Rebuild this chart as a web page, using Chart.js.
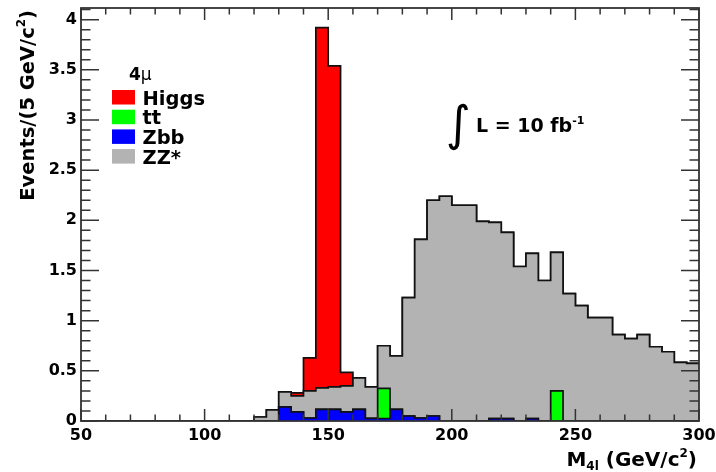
<!DOCTYPE html>
<html lang="en">
<head>
    <meta charset="UTF-8">
    <title>M4l stacked histogram</title>
    <script src="https://cdn.jsdelivr.net/npm/chart.js"></script>
    <style>
        body { margin: 0; background: #fff; }
        canvas { display: block; }
    </style>
</head>
<body>
    <canvas id="massChart" width="716" height="472"></canvas>

    <script>
        // bin edges in GeV/c^2 (5 GeV bins)
        const binEdges = [50, 55, 60, 65, 70, 75, 80, 85, 90, 95,
                          100, 105, 110, 115, 120, 125, 130, 135, 140, 145,
                          150, 155, 160, 165, 170, 175, 180, 185, 190, 195,
                          200, 205, 210, 215, 220, 225, 230, 235, 240, 245,
                          250, 255, 260, 265, 270, 275, 280, 285, 290, 295, 300];

        // events per bin, one value per bin starting at the edge above
        const zbbEvents = [0, 0, 0, 0, 0, 0, 0, 0, 0, 0,
                           0, 0, 0, 0, 0, 0, 0.14, 0.09, 0.03, 0.115,
                           0.115, 0.09, 0.115, 0.027, 0.025, 0.115, 0.05, 0.03, 0.05, 0,
                           0, 0, 0, 0.023, 0.023, 0, 0.023, 0, 0, 0,
                           0, 0, 0, 0, 0, 0, 0, 0, 0, 0];
        const ttEvents = [0, 0, 0, 0, 0, 0, 0, 0, 0, 0,
                          0, 0, 0, 0, 0, 0, 0, 0, 0, 0,
                          0, 0, 0, 0, 0.30, 0, 0, 0, 0, 0,
                          0, 0, 0, 0, 0, 0, 0, 0, 0.30, 0,
                          0, 0, 0, 0, 0, 0, 0, 0, 0, 0];
        const zzEvents = [0, 0, 0, 0, 0, 0, 0, 0, 0, 0,
                          0, 0, 0, 0, 0.04, 0.11, 0.15, 0.16, 0.27, 0.215,
                          0.225, 0.26, 0.315, 0.313, 0.425, 0.535, 1.18, 1.78, 2.15, 2.24,
                          2.15, 2.15, 1.99, 1.957, 1.857, 1.54, 1.647, 1.40, 1.38, 1.27,
                          1.15, 1.03, 1.03, 0.86, 0.82, 0.86, 0.74, 0.69, 0.585, 0.575];
        const higgsEvents = [0, 0, 0, 0, 0, 0, 0, 0, 0, 0,
                             0, 0, 0, 0, 0, 0, 0, 0.03, 0.33, 3.59,
                             3.20, 0.135, 0, 0, 0, 0, 0, 0, 0, 0,
                             0, 0, 0, 0, 0, 0, 0, 0, 0, 0,
                             0, 0, 0, 0, 0, 0, 0, 0, 0, 0];

        const xTicks = [50, 100, 150, 200, 250, 300];
        const yTicks = [0, 0.5, 1, 1.5, 2, 2.5, 3, 3.5, 4];

        const FONT = '"DejaVu Sans", "Liberation Sans", sans-serif';

        // step points: each bin value is held until the next edge
        function histPoints(values) {
            return binEdges.map((e, i) => ({ x: e, y: values[Math.min(i, values.length - 1)] }));
        }

        function histDataset(label, values, color, fill) {
            return {
                label: label,
                data: histPoints(values),
                backgroundColor: color,
                borderColor: '#111',
                borderWidth: 1.7,
                stepped: true,
                fill: fill,
                pointRadius: 0,
                tension: 0
            };
        }

        // stacked bottom to top
        const datasets = [
            histDataset('Zbb', zbbEvents, '#0000ff', 'origin'),
            histDataset('tt', ttEvents, '#00ff00', '-1'),
            histDataset('ZZ*', zzEvents, '#b3b3b3', '-1'),
            histDataset('Higgs', higgsEvents, '#ff0000', '-1')
        ];

        // frame with inward ticks on all four sides
        const frameTicks = {
            id: 'frameTicks',
            afterDatasetsDraw(chart) {
                const { ctx, chartArea: a, scales: { x, y } } = chart;
                ctx.save();
                ctx.strokeStyle = '#333';
                ctx.lineWidth = 1.5;
                ctx.beginPath();
                for (let k = 0; k <= 41; k++) {
                    const py = y.getPixelForValue(k / 10);
                    if (py < a.top) break;
                    const len = k % 5 === 0 ? 18 : 9.5;
                    ctx.moveTo(a.left, py); ctx.lineTo(a.left + len, py);
                    ctx.moveTo(a.right, py); ctx.lineTo(a.right - len, py);
                }
                for (let g = 50; g <= 300; g += 10) {
                    const px = x.getPixelForValue(g);
                    const len = g % 50 === 0 ? 12 : 6.5;
                    ctx.moveTo(px, a.bottom); ctx.lineTo(px, a.bottom - len);
                    ctx.moveTo(px, a.top); ctx.lineTo(px, a.top + len);
                }
                ctx.stroke();
                ctx.lineWidth = 1.8;
                ctx.strokeRect(a.left, a.top, a.right - a.left, a.bottom - a.top);
                ctx.restore();
            }
        };

        // draws runs of text with different fonts / vertical offsets, left to right
        function richText(ctx, parts, x, y, measureOnly) {
            let w = 0;
            parts.forEach(p => {
                ctx.font = p.font;
                if (!measureOnly) ctx.fillText(p.t, x + w, y + (p.dy || 0));
                w += ctx.measureText(p.t).width;
            });
            return w;
        }

        const labelsAndLegend = {
            id: 'labelsAndLegend',
            afterDraw(chart) {
                const { ctx, chartArea: a } = chart;
                ctx.save();
                ctx.fillStyle = '#000';
                ctx.textBaseline = 'alphabetic';
                ctx.textAlign = 'left';

                // x axis title, right aligned at the axis end
                const big = 'bold 20px ' + FONT;
                const small = 'bold 12px ' + FONT;
                const xTitle = [
                    { t: 'M', font: big },
                    { t: '4l', font: small, dy: 4 },
                    { t: ' (GeV/c', font: big },
                    { t: '2', font: small, dy: -9 },
                    { t: ')', font: big }
                ];
                const xw = richText(ctx, xTitle, 0, 0, true);
                richText(ctx, xTitle, a.right - 2 - xw, 466);

                // y axis title, rotated, right aligned at the top
                const yBig = 'bold 19.5px ' + FONT;
                const ySmall = 'bold 12px ' + FONT;
                const yTitle = [
                    { t: 'Events/(5 GeV/c', font: yBig },
                    { t: '2', font: ySmall, dy: -9 },
                    { t: ')', font: yBig }
                ];
                const yw = richText(ctx, yTitle, 0, 0, true);
                ctx.save();
                ctx.translate(34, 10 + yw);
                ctx.rotate(-Math.PI / 2);
                richText(ctx, yTitle, 0, 0);
                ctx.restore();

                // legend
                richText(ctx, [
                    { t: '4', font: 'bold 17px ' + FONT },
                    { t: 'μ', font: '17px ' + FONT }
                ], 129, 80);
                const order = ['Higgs', 'tt', 'Zbb', 'ZZ*'];
                order.forEach((name, i) => {
                    const ds = chart.data.datasets.find(d => d.label === name);
                    const top = 90 + i * 19.7;
                    ctx.fillStyle = ds.backgroundColor;
                    ctx.fillRect(112, top, 23, 14.5);
                    ctx.fillStyle = '#000';
                    ctx.font = 'bold 19.5px ' + FONT;
                    ctx.fillText(name, 142.5, top + 14.5);
                });

                // luminosity
                ctx.font = '48px ' + FONT;
                ctx.fillText('∫', 446, 140);
                richText(ctx, [
                    { t: 'L = 10 fb', font: 'bold 19px ' + FONT },
                    { t: '-1', font: 'bold 11px ' + FONT, dy: -8 }
                ], 476, 131.5);

                ctx.restore();
            }
        };

        const massChart = new Chart(document.getElementById('massChart').getContext('2d'), {
            type: 'line',
            data: { datasets: datasets },
            options: {
                responsive: false,
                animation: false,
                devicePixelRatio: 1,
                layout: { padding: 0 },
                plugins: {
                    legend: { display: false },
                    tooltip: { enabled: false },
                    filler: { propagate: false }
                },
                scales: {
                    x: {
                        type: 'linear',
                        min: 50,
                        max: 300,
                        grid: { display: false, drawTicks: false },
                        border: { display: false },
                        afterBuildTicks: s => { s.ticks = xTicks.map(v => ({ value: v })); },
                        ticks: {
                            padding: 5,
                            maxRotation: 0,
                            autoSkip: false,
                            color: '#000',
                            font: { family: FONT, weight: 'bold', size: 16 }
                        },
                        afterFit: s => { s.height = 51; s.paddingRight = 17; }
                    },
                    y: {
                        stacked: true,
                        min: 0,
                        max: 4.116,
                        grid: { display: false, drawTicks: false },
                        border: { display: false },
                        afterBuildTicks: s => { s.ticks = yTicks.map(v => ({ value: v })); },
                        ticks: {
                            padding: 4,
                            color: '#000',
                            font: { family: FONT, weight: 'bold', size: 16 },
                            callback: v => String(v)
                        },
                        afterFit: s => { s.width = 81; s.paddingTop = 8; }
                    }
                }
            },
            plugins: [frameTicks, labelsAndLegend]
        });
    </script>
</body>
</html>
